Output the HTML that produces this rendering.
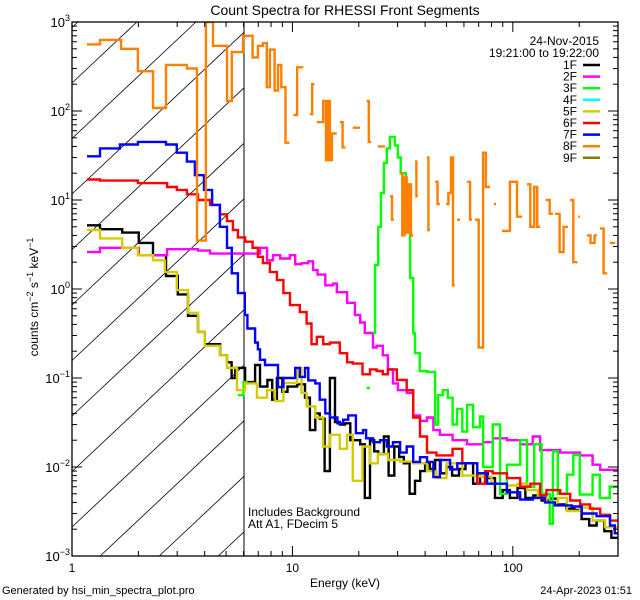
<!DOCTYPE html>
<html><head><meta charset="utf-8"><style>
html,body{margin:0;padding:0;background:#fff;width:640px;height:600px;overflow:hidden;}
svg{display:block;font-family:"Liberation Sans",sans-serif;overflow:hidden;}
</style></head><body>
<svg id="chart" width="640" height="600" viewBox="0 0 640 600" xmlns="http://www.w3.org/2000/svg">
<rect width="640" height="600" fill="#fff"/>
<defs><clipPath id="plotclip"><rect x="72" y="22" width="546" height="534"/></clipPath></defs>
<text x="345" y="15" font-size="14" text-anchor="middle">Count Spectra for RHESSI Front Segments</text>
<g id="hatch"></g>
<line x1="244" y1="22" x2="244" y2="556" stroke="#000" stroke-width="1"/>
<g id="series" clip-path="url(#plotclip)"></g>
<rect x="72" y="22" width="546" height="534" fill="none" stroke="#000" stroke-width="1.3"/>
<g id="axes"></g>
<text x="345" y="587" font-size="12" text-anchor="middle">Energy (keV)</text>
<text transform="translate(38,297) rotate(-90)" font-size="12" text-anchor="middle">counts cm<tspan dy="-5" font-size="9">−2</tspan><tspan dy="5"> s</tspan><tspan dy="-5" font-size="9">−1</tspan><tspan dy="5"> keV</tspan><tspan dy="-5" font-size="9">−1</tspan></text>
<text x="599" y="45" font-size="12" text-anchor="end">24-Nov-2015</text>
<text x="599" y="57" font-size="12" text-anchor="end">19:21:00 to 19:22:00</text>
<g id="legend"></g>
<text x="248" y="516" font-size="12">Includes Background</text>
<text x="248" y="528" font-size="12">Att A1, FDecim  5</text>
<text x="2" y="594" font-size="11">Generated by hsi_min_spectra_plot.pro</text>
<text x="632" y="594" font-size="11" text-anchor="end">24-Apr-2023 01:51</text>
</svg>
<script>
// ---- data: [energy keV (bin left edge), counts] ; null = gap ----
const s1F = [[1.17,5.2],[1.34,4.7],[1.69,4.3],[2.01,3.3],[2.33,2.4],[2.67,1.4],[3.02,0.87],[3.36,0.5],[3.73,0.33],[4.0,0.24],[4.7,0.18],[5.05,0.15],[5.3,0.1],[5.5,0.13],[6.1,0.09],[6.77,0.14],[7.13,0.08],[7.7,0.095],[8.1,0.057],[8.5,0.1],[9.0,0.07],[9.5,0.08],[10.5,0.085],[11.4,0.06],[12.0,0.026],[12.7,0.04],[13.3,0.035],[14.0,0.009],[14.8,0.1],[15.6,0.032],[16.4,0.03],[17.3,0.031],[18.3,0.02],[19.2,0.02],[20.3,0.018],[21.3,0.0045],[22.5,0.02],[23.5,0.015],[24.5,0.014],[26,0.022],[27.3,0.008],[29,0.017],[30.5,0.013],[32,0.011],[34,0.005],[36,0.007],[38,0.009],[40,0.011],[42,0.0095],[44.4,0.012],[47,0.0085],[50,0.01],[53,0.008],[57,0.0095],[61,0.011],[66,0.0065],[71,0.0085],[77,0.0075],[83,0.0045],[90,0.0055],[97,0.0045],[105,0.0058],[114,0.0045],[124,0.0048],[135,0.0042],[147,0.0044],[160,0.0038],[175,0.0034],[190,0.0033],[205,0.0026],[222,0.0022],[240,0.0025],[260,0.0019],[280,0.0016],[300,null]];
const s2F = [[1.17,2.6],[1.34,2.9],[2.01,2.4],[2.7,2.8],[3.73,2.7],[4.23,2.5],[7.13,2.9],[7.67,2.1],[8.16,2.4],[8.79,2.2],[9.75,2.4],[10.3,1.9],[11.0,1.95],[11.8,2.05],[12.4,1.63],[13.0,1.45],[14.1,1.1],[15.3,1.15],[15.9,0.92],[17.7,0.7],[19.2,0.51],[20.3,0.42],[21.3,0.32],[23.2,0.22],[24.1,0.23],[25.7,0.18],[27.1,0.125],[28.6,0.087],[30.1,0.073],[33,0.068],[35.3,0.038],[37.9,0.033],[40.8,0.036],[43.6,0.026],[46.7,0.023],[53.3,0.02],[62,0.018],[73.3,0.019],[81,0.021],[94,0.02],[108,0.018],[123,0.022],[133,0.0155],[164,0.0145],[202,0.0135],[230,0.0106],[249,0.0093],[300,null]];
const s3F = [[5.66,0.064],[6.0,0.09],[6.25,null],[21.7,0.077],[22.5,null],[23.2,0.32],[23.7,1.86],[24.5,5],[25.2,12],[26.0,26],[26.8,38],[27.7,51],[29.2,41],[30.1,30],[31.0,20],[32.7,5],[34.2,1.33],[35.3,0.32],[36,0.19],[37.8,0.12],[40.8,0.117],[44.4,0.03],[45.8,0.064],[48.1,0.073],[50.7,0.06],[53.3,0.03],[55.8,0.045],[59,0.025],[62,0.05],[66,0.028],[71,0.037],[73.3,0.01],[81,0.03],[87.5,0.005],[94,0.0106],[108,0.02],[116,0.006],[125,0.018],[135,0.005],[147,0.0023],[152,0.015],[160,0.005],[176,0.0082],[188,0.0137],[201,0.0049],[230,0.0082],[248,0.0045],[275,0.006],[300,null]];
const s5F = [[1.17,4.6],[1.34,3.7],[1.69,2.9],[1.99,2.4],[2.33,2.1],[2.64,1.55],[2.99,0.97],[3.36,0.54],[3.73,0.33],[4.0,0.23],[4.69,0.18],[5.05,0.13],[5.6,0.073],[6.1,0.087],[6.9,0.06],[7.67,0.073],[8.34,0.055],[9.1,0.088],[10.5,0.13],[11.0,0.068],[11.6,0.048],[12.7,0.036],[13.8,0.017],[14.8,0.023],[16.4,0.016],[17.7,0.023],[18.8,0.007],[20.8,0.017],[22.5,0.011],[24.4,0.014],[27.1,0.012],[30.8,0.0115],[35.3,0.011],[40.8,0.009],[45,0.0075],[50,0.011],[59,0.008],[71,0.0078],[80,0.0065],[94,0.0062],[105,0.0065],[116,0.0055],[130,0.0045],[142,0.004],[160,0.0045],[176,0.0032],[202,0.0035],[230,0.0025],[262,0.0021],[300,null]];
const s6F = [[1.17,17],[1.34,16.5],[1.99,15.5],[2.7,14],[2.99,13],[3.32,11.6],[3.73,10],[4.23,8.8],[4.69,6.9],[5.05,5.8],[5.37,4.6],[5.66,3.8],[6.1,3.4],[6.6,2.9],[6.97,2.3],[7.35,1.96],[7.9,1.55],[8.5,1.26],[9.1,0.9],[9.75,0.66],[10.8,0.55],[11.6,0.41],[12.2,0.24],[12.9,0.29],[13.8,0.24],[14.8,0.25],[16.4,0.19],[17.7,0.15],[18.8,0.145],[20.8,0.11],[22.5,0.125],[24.1,0.12],[25.7,0.11],[27.1,0.125],[29.8,0.095],[33,0.073],[35.3,0.036],[37.9,0.022],[40.8,0.0145],[45,0.0135],[53.3,0.016],[59,0.011],[68.9,0.0065],[74.8,0.009],[81,0.0085],[94,0.0075],[108,0.006],[120,0.0065],[133,0.0048],[142,0.0055],[164,0.005],[182,0.0042],[202,0.0038],[224,0.0034],[249,0.0029],[276,0.0025],[300,null]];
const s7F = [[1.17,31],[1.34,38],[1.65,42],[1.99,45],[2.67,42],[2.99,34],[3.32,27],[3.61,19],[3.97,13],[4.32,8.8],[4.69,5],[5.05,2.9],[5.31,1.5],[5.66,0.9],[6.08,0.51],[6.25,0.36],[6.77,0.25],[6.97,0.21],[7.13,0.16],[7.51,0.14],[8.6,0.079],[9.1,0.1],[9.75,0.1],[10.3,0.13],[10.8,0.103],[11.4,0.13],[11.8,0.094],[12.7,0.087],[13.3,0.057],[14.1,0.04],[14.8,0.036],[16.0,0.031],[17.0,0.034],[17.9,0.038],[19.4,0.024],[20.9,0.026],[21.6,0.021],[23.2,0.019],[25,0.02],[26.8,0.017],[28.6,0.019],[30.8,0.0145],[33,0.017],[35.3,0.0114],[37.9,0.0129],[40.8,0.0114],[43.6,0.0077],[46.7,0.012],[51.9,0.0094],[56,0.011],[68.9,0.0085],[76.4,0.0065],[94,0.0052],[108,0.0043],[123,0.0045],[140,0.004],[155,0.0037],[185,0.0036],[205,0.003],[240,0.0028],[276,0.0022],[290,0.0018],[300,null]];
const s8F = [[1.17,560],[1.34,630],[1.67,500],[1.99,280],[2.33,108],[2.67,330],[3.32,300],[3.69,3.5],[4.05,1000],[4.36,540],[5.05,130],[5.31,460],[5.97,700],[6.6,400],[6.97,540],[7.35,580],[7.65,185],[7.9,490],[8.3,170],[8.6,330],[8.9,185],[9.3,44],[9.7,null],[10.1,90],[10.5,310],[11.2,null],[12.0,92],[12.3,200],[12.6,null],[12.9,75],[13.8,130],[14.2,28],[14.5,130],[14.8,28],[15.1,56],[15.9,null],[16.4,75],[16.9,39],[17.4,null],[18.8,65],[20.3,null],[21.7,130],[22.2,45],[22.8,null],[24.4,40],[26.3,null],[27.7,11],[28.3,6],[28.9,null],[30.8,20],[31.5,4],[32.2,18],[33,4.3],[33.8,15],[34.5,4],[35.3,null],[36,27],[36.5,11],[37.1,null],[40.8,30],[41.4,4.6],[42.1,null],[44.4,16],[45.5,9],[46.7,null],[49.8,9],[51,12],[52.4,30],[53.5,1.1],[54.6,null],[55.8,6],[57.6,null],[62,16],[64,6],[65.3,null],[67.4,6],[70,0.22],[73.3,34],[75.5,14],[78.8,null],[82,9],[84,null],[89.3,4.5],[97,16],[104.5,6.5],[110,null],[116,15],[120,5],[125,14],[129,5],[133,null],[141,10],[147,7],[152,null],[155,7],[163,2.6],[170,5],[178,null],[182,10],[188,2.0],[196,null],[198,6.5],[202,null],[217,4],[225,3.3],[235,4],[241,null],[248,4.8],[258,1.5],[268,null],[276,3.3],[291,null]];
const seriesNames = ["1F","2F","3F","5F","6F","7F","8F"];
const seriesData = [s1F,s2F,s3F,s5F,s6F,s7F,s8F];
const legendLabels = ["1F","2F","3F","4F","5F","6F","7F","8F","9F"];
const legendColors = ["#000000","#ff00ff","#00ff00","#00ffff","#d4cc00","#ff0000","#0000ff","#ff8000","#808000"];
const seriesColors = ["#000000","#ff00ff","#00ff00","#d4cc00","#ff0000","#0000ff","#ff8000"];
const xTickLabels = ["1","10","100"];
const yTickExps = ["−3","−2","−1","0","1","2","3"];

const NS="http://www.w3.org/2000/svg";
const PL=72,PR=618,PT=22,PB=556, XMAX=300, YMIN=-3, YMAX=3, HX=244;
function X(e){return PL+Math.log10(e)/Math.log10(XMAX)*(PR-PL);}
function Y(v){return PB-(Math.log10(v)-YMIN)/(YMAX-YMIN)*(PB-PT);}
function mk(tag,attrs,parent){const el=document.createElementNS(NS,tag);for(const k in attrs)el.setAttribute(k,attrs[k]);parent.appendChild(el);return el;}

// hatch lines, clipped by hand to [PL,HX]x[PT,PB]
const hatch=document.getElementById('hatch');
for(let n=-2;n<14;n++){
  const c=83+55.5*n, k=0.94;
  if(c<=PT) continue;
  let x0,y0,x1,y1;
  if(c>PB){x0=PL+(c-PB)/k;y0=PB;}else{x0=PL;y0=c;}
  if(x0>=HX) continue;
  x1=PL+(c-PT)/k; y1=PT;
  if(x1>HX){x1=HX;y1=c-k*(HX-PL);}
  const ln=mk('line',{x1:x0,y1:y0,x2:x1,y2:y1,stroke:'#000','stroke-width':0.8},hatch);
  
  
}

// series
const sg=document.getElementById('series');
seriesData.forEach((s,si)=>{
  let d='',prev=null;
  for(let i=0;i<s.length-1;i++){
    const v=s[i][1];
    if(v==null){prev=null;continue;}
    const x1=X(s[i][0]),x2=X(s[i+1][0]),y=Math.max(Y(v),PT-2);
    if(prev==null) d+='M'+x1.toFixed(1)+' '+y.toFixed(1);
    else d+='L'+x1.toFixed(1)+' '+y.toFixed(1);
    d+='L'+x2.toFixed(1)+' '+y.toFixed(1);
    prev=v;
  }
  const p=mk('path',{d:d,fill:'none',stroke:seriesColors[si],'stroke-width':2.4,'stroke-linejoin':'miter'},sg);
  
  
});

// axes ticks
const ax=document.getElementById('axes');
for(let dec=0;dec<3;dec++){
  for(let m=1;m<10;m++){
    const e=m*Math.pow(10,dec); if(e>XMAX) break;
    const x=X(e), len=(m==1)?10:5;
    const t1=mk('line',{x1:x,y1:PB,x2:x,y2:PB-len,stroke:'#000','stroke-width':1},ax);
    
    
    const t2=mk('line',{x1:x,y1:PT,x2:x,y2:PT+len,stroke:'#000','stroke-width':1},ax);
    
    
  }
}
xTickLabels.forEach((lab,i)=>{
  const t=mk('text',{x:X(Math.pow(10,i)),y:572,'font-size':12,'text-anchor':'middle'},ax);
  t.textContent=lab;
  
  
});
for(let p=YMIN;p<YMAX;p++){
  for(let m=1;m<10;m++){
    const y=Y(m*Math.pow(10,p)), len=(m==1)?10:5;
    const t1=mk('line',{x1:PL,y1:y,x2:PL+len,y2:y,stroke:'#000','stroke-width':1},ax);
    
    
    const t2=mk('line',{x1:PR,y1:y,x2:PR-len,y2:y,stroke:'#000','stroke-width':1},ax);
    
    
  }
}
yTickExps.forEach((ex,i)=>{
  const y=Y(Math.pow(10,YMIN+i));
  const t=mk('text',{x:70,y:y+5,'font-size':13,'text-anchor':'end'},ax);
  
  
  t.innerHTML='10<tspan dy="-6" font-size="9">'+ex+'</tspan>';
});

// legend
const lg=document.getElementById('legend');
legendLabels.forEach((lab,i)=>{
  const y=65+i*11.6;
  const t=mk('text',{x:577,y:y+4,'font-size':12,'text-anchor':'end'},lg);
  t.textContent=lab;
  
  
  const l=mk('line',{x1:583,y1:y,x2:600,y2:y,stroke:legendColors[i],'stroke-width':2.5},lg);
  
  
});
</script>
</body></html>
